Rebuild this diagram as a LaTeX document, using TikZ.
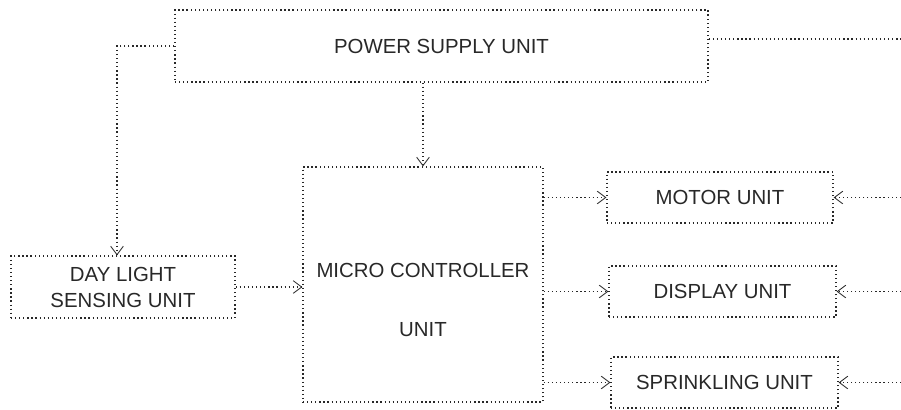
\documentclass[tikz,border=0pt]{standalone}
\usepackage{fontspec}
\setmainfont{Liberation Sans}
\usetikzlibrary{arrows.meta, positioning, calc}
\definecolor{inkgray}{RGB}{40,40,40}

\begin{document}
\begin{tikzpicture}[x=0.025cm, y=-0.025cm,
    unit/.style={draw=inkgray, dotted, line width=0.9pt, text=inkgray,
      font=\fontsize{14.5}{18.5}\selectfont, align=center, inner sep=0pt},
    link/.style={draw=inkgray, dotted, line width=0.9pt},
    feed/.style={link, -{Straight Barb[length=6pt, width=9pt, line width=0.6pt]}}]
  \useasboundingbox (0,0) rectangle (901,409);

  % blocks
  \node[unit, minimum width=13.325cm, minimum height=1.8cm] (psu) at (441.5,46) {POWER SUPPLY UNIT};
  \node[unit, minimum width=6cm, minimum height=5.875cm,
    label={[font=\fontsize{14.5}{18.5}\selectfont, text=inkgray, align=center, yshift=-0.39cm]center:MICRO CONTROLLER\\[23pt]UNIT}] (mcu) at (423,284.5) {};
  \node[unit, minimum width=5.6cm, minimum height=1.55cm] (dls) at (123,287) {DAY LIGHT\\SENSING UNIT};
  \node[unit, minimum width=5.65cm, minimum height=1.275cm] (motor) at (720,197.5) {MOTOR UNIT};
  \node[unit, minimum width=5.675cm, minimum height=1.275cm] (disp) at (722.5,291.5) {DISPLAY UNIT};
  \node[unit, minimum width=5.675cm, minimum height=1.275cm] (sprk) at (724.5,382.5) {SPRINKLING UNIT};

  % rails
  \coordinate (pl) at (117,46);
  \coordinate (pr) at (901,39);
  \coordinate (rail) at (901,0);

  % connections
  \draw[feed] (psu.west) -- (pl) -- (pl |- dls.north);
  \draw[link] (pr -| psu.east) -- (pr);
  \draw[feed] (psu.south -| mcu.north) -- (mcu.north);
  \draw[feed] (dls.east) -- (dls.east -| mcu.west);
  \foreach \blk in {motor, disp, sprk} {
    \draw[feed] (\blk.west -| mcu.east) -- (\blk.west);
    \draw[feed] (\blk.east -| rail) -- (\blk.east);
  }
\end{tikzpicture}
\end{document}
